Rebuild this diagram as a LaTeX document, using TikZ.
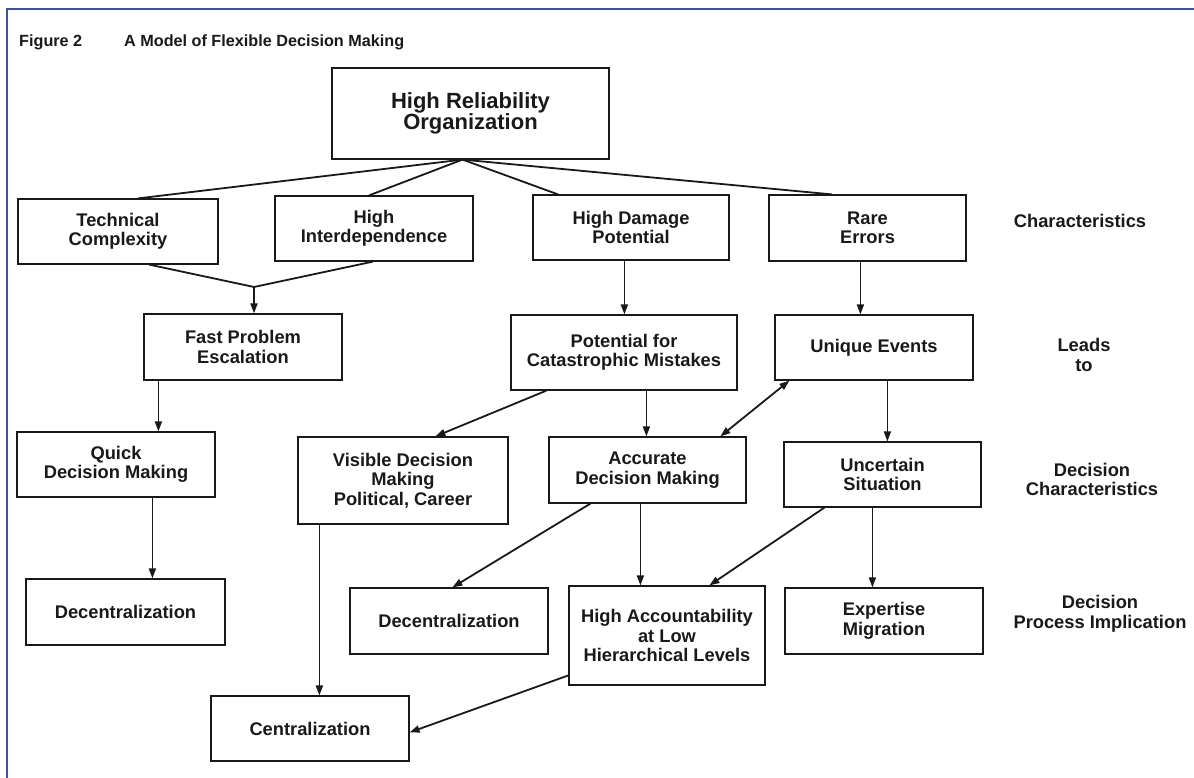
\documentclass[tikz,border=0pt]{standalone}
\usepackage{fontspec}
\setmainfont{Liberation Sans}
\usetikzlibrary{arrows.meta,calc}
\definecolor{framec}{RGB}{62,84,150}
\definecolor{inkc}{RGB}{25,25,25}
\tikzset{
  box/.style={draw=inkc, line width=1.2pt, inner sep=0pt, align=center,
    font=\fontsize{18.3}{19.5}\selectfont\bfseries, text=inkc},
  lbl/.style={inner sep=0pt, align=center,
    font=\fontsize{18.3}{19.5}\selectfont\bfseries, text=inkc},
  conn/.style={draw=inkc, line width=1.8pt},
  arr/.style={conn, -{Triangle[length=10pt,width=7pt]}},
  darr/.style={conn, {Triangle[length=10pt,width=7pt]}-{Triangle[length=10pt,width=7pt]}},
  ttlstyle/.style={anchor=west, inner sep=0pt, font=\fontsize{16.2}{17}\selectfont\bfseries, text=inkc},
}
\begin{document}
\begin{tikzpicture}[x=1pt,y=-1pt]
\useasboundingbox (0,0) rectangle (1194,778);
% frame
\draw[framec, line width=2.4pt] (7,778) -- (7,9) -- (1194,9);
% title
\node[ttlstyle] (fig) at (19,42) {Figure 2};
\node[ttlstyle] (ttl) at (124,42) {A Model of Flexible Decision Making};
% boxes
\node[box, minimum width=277pt, minimum height=91pt, font=\fontsize{22}{21}\selectfont\bfseries] (hro) at (470.5,113.5) {High Reliability\\Organization};
\node[box, minimum width=200pt, minimum height=65pt] (tc) at (118,231.5) {Technical\\Complexity};
\node[box, minimum width=198pt, minimum height=65pt] (hi) at (374,228.5) {High\\Interdependence};
\node[box, minimum width=196pt, minimum height=65pt] (hdp) at (631,227.5) {High Damage\\Potential};
\node[box, minimum width=197pt, minimum height=66pt] (re) at (867.5,228) {Rare\\Errors};
\node[box, minimum width=198pt, minimum height=66pt] (fpe) at (243,347) {Fast Problem\\Escalation};
\node[box, minimum width=226pt, minimum height=75pt] (pcm) at (624,352.5) {Potential for\\Catastrophic Mistakes};
\node[box, minimum width=198pt, minimum height=65pt] (ue) at (874,347.5) {Unique Events};
\node[box, minimum width=198pt, minimum height=65pt] (qdm) at (116,464.5) {Quick\\Decision Making};
\node[box, minimum width=210pt, minimum height=87pt] (vdm) at (403,480.5) {Visible Decision\\Making\\Political, Career};
\node[box, minimum width=197pt, minimum height=66pt] (adm) at (647.5,470) {Accurate\\Decision Making};
\node[box, minimum width=197pt, minimum height=65pt] (us) at (882.5,474.5) {Uncertain\\Situation};
\node[box, minimum width=199pt, minimum height=66pt] (dec1) at (125.5,612) {Decentralization};
\node[box, minimum width=198pt, minimum height=66pt] (dec2) at (449,621) {Decentralization};
\node[box, minimum width=196pt, minimum height=99pt] (hal) at (667,635.5) {High Accountability\\at Low\\Hierarchical Levels};
\node[box, minimum width=198pt, minimum height=66pt] (em) at (884,621) {Expertise\\Migration};
\node[box, minimum width=198pt, minimum height=65pt] (cent) at (310,728.5) {Centralization};
% right labels
\node[lbl] (l1) at (1080,221) {Characteristics};
\node[lbl] (l2) at (1084,355) {Leads\\to};
\node[lbl] (l3) at (1092,479.5) {Decision\\Characteristics};
\node[lbl] (l4) at (1100,614) {Decision\\Process Implication};
% coordinates
\coordinate (apex) at ($(hro.south)+(-8,0)$);
\coordinate (merge) at (254,287);
% top fan
\draw[conn] (apex) -- ($(tc.north west)!0.6!(tc.north east)$);
\draw[conn] (apex) -- ($(hi.north west)!0.475!(hi.north east)$);
\draw[conn] (apex) -- ($(hdp.north west)!0.13!(hdp.north east)$);
\draw[conn] (apex) -- ($(re.north west)!0.32!(re.north east)$);
% merge to fpe
\draw[conn] ($(tc.south west)!0.655!(tc.south east)$) -- (merge);
\draw[conn] ($(hi.south west)!0.495!(hi.south east)$) -- (merge);
\draw[arr] (merge) -- (merge |- fpe.north);
% verticals
\coordinate (a1) at ($(fpe.south west)+(15,0)$);
\draw[arr] (a1) -- (a1 |- qdm.north);
\coordinate (a2) at ($(qdm.south west)+(136,0)$);
\draw[arr] (a2) -- (a2 |- dec1.north);
\coordinate (a3) at ($(hdp.south west)+(92,0)$);
\draw[arr] (a3) -- (a3 |- pcm.north);
\coordinate (a4) at ($(re.south west)+(92,0)$);
\draw[arr] (a4) -- (a4 |- ue.north);
\coordinate (a5) at ($(pcm.south west)+(136,0)$);
\draw[arr] (a5) -- (a5 |- adm.north);
\coordinate (a6) at ($(ue.south west)+(113,0)$);
\draw[arr] (a6) -- (a6 |- us.north);
\coordinate (a7) at ($(vdm.south west)+(22,0)$);
\draw[arr] (a7) -- (a7 |- cent.north);
\coordinate (a8) at ($(adm.south west)+(92,0)$);
\draw[arr] (a8) -- (a8 |- hal.north);
\coordinate (a9) at ($(us.south west)+(89,0)$);
\draw[arr] (a9) -- (a9 |- em.north);
% diagonals
\draw[arr] ($(pcm.south west)+(36,0)$) -- ($(vdm.north west)+(138,0)$);
\draw[darr] ($(ue.south west)+(15,0)$) -- ($(adm.north west)+(172,0)$);
\draw[arr] ($(adm.south west)+(42,0)$) -- ($(dec2.north west)+(103,0)$);
\draw[arr] ($(us.south west)+(41,0)$) -- ($(hal.north west)+(141,0)$);
\draw[arr] ($(hal.north west)+(0,90)$) -- ($(cent.north east)+(0,37)$);
\end{tikzpicture}
\end{document}
